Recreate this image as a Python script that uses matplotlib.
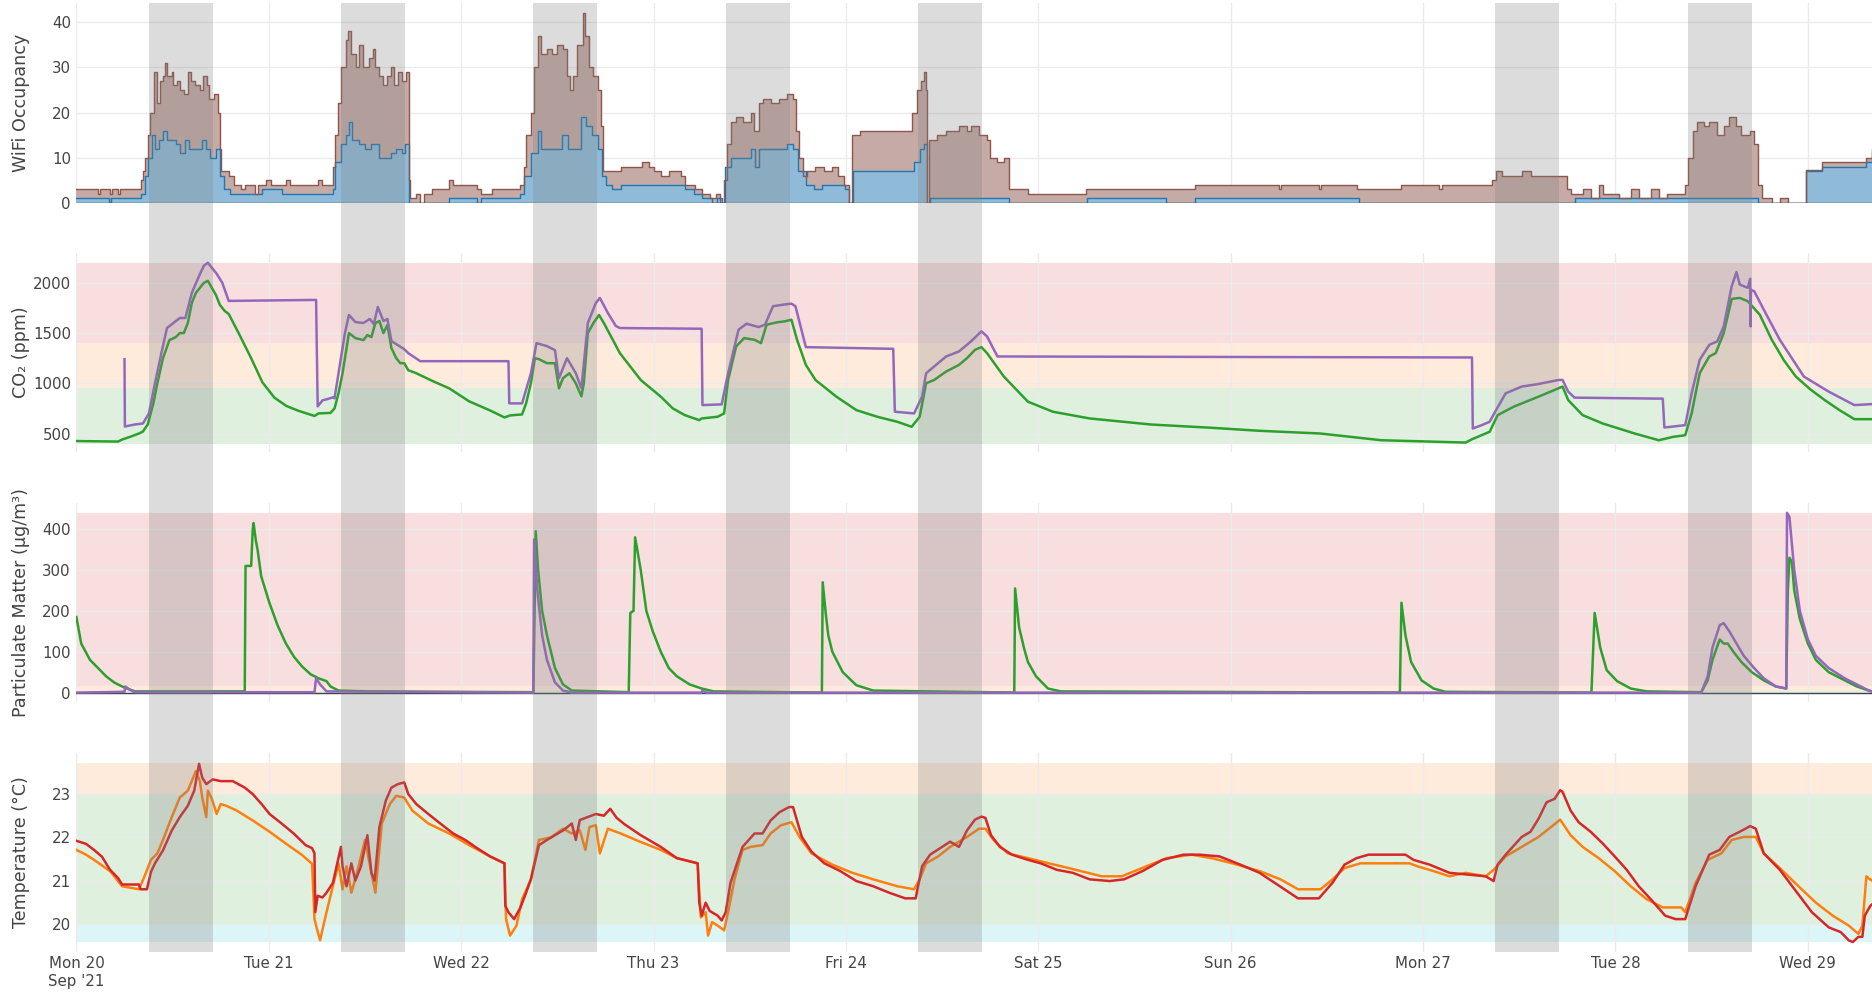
import numpy as np
import matplotlib
matplotlib.use("Agg")
import matplotlib.pyplot as plt
from matplotlib.patches import Rectangle
import matplotlib.transforms as mtransforms

# ---------------- data (time in hours from Mon 20 Sep 2021 00:00) ----------------
day_labels = ["Mon 20\nSep '21", "Tue 21", "Wed 22", "Thu 23", "Fri 24",
              "Sat 25", "Sun 26", "Mon 27", "Tue 28", "Wed 29"]
office_days = [0, 1, 2, 3, 4, 7, 8]
office_start, office_end = 9, 17

wifi_total_t = [0, 2.7, 2.95, 4.2, 4.5, 5.2, 5.5, 8.0, 8.3, 8.5, 8.9, 9.2, 9.7, 10.1, 10.4, 10.8, 11.1, 11.3,
                11.9, 12.1, 12.5, 12.9, 13.4, 13.9, 14.3, 14.8, 15.4, 15.8, 16.3, 16.5, 17.2, 17.7, 17.9,
                18.1, 19.0, 19.6, 20.5, 21.0, 22.3, 22.7, 23.6, 24.3, 26.1, 26.6, 30.2, 30.7, 32.0, 32.3,
                32.6, 33.0, 33.6, 33.9, 34.3, 34.9, 35.3, 35.8, 36.5, 37.0, 37.3, 37.7, 38.3, 38.8, 39.2,
                39.6, 40.1, 40.6, 41.1, 41.5, 41.6, 42.4, 42.9, 43.4, 44.4, 46.5, 47.0, 50.0, 50.5, 51.8,
                55.4, 55.8, 56.1, 56.7, 57.1, 57.6, 58.0, 58.7, 59.3, 60.0, 60.7, 61.2, 61.6, 62.0, 62.5,
                63.2, 63.5, 64.0, 64.5, 65.1, 65.4, 65.7, 67.9, 69.3, 70.6, 71.4, 72.1, 72.9, 73.9, 75.4,
                75.9, 77.2, 78.0, 79.0, 79.8, 80.3, 80.8, 81.1, 81.6, 82.3, 83.1, 84.1, 84.5, 85.1, 85.6,
                86.6, 87.7, 88.7, 89.4, 89.8, 90.2, 90.6, 91.2, 92.2, 93.3, 94.3, 95.0, 95.8, 96.4, 96.8,
                97.8, 103.4, 104.2, 104.9, 105.4, 105.7, 106.0, 106.1, 106.4, 107.3, 108.5, 110.1, 111.1,
                111.6, 112.6, 113.6, 114.0, 114.9, 115.7, 116.4, 118.7, 125.9, 139.6, 145.2, 150.0, 150.3,
                155.0, 155.3, 159.7, 165.0, 165.3, 170.0, 170.3, 176.6, 177.1, 177.8, 180.4, 181.4, 185.4,
                185.9, 186.4, 187.9, 188.9, 189.9, 190.4, 192.4, 193.9, 194.9, 196.4, 197.4, 198.4, 200.7,
                201.1, 201.7, 202.2, 203.0, 203.7, 204.7, 205.5, 206.2, 207.0, 207.7, 208.8, 209.3, 209.8,
                210.3, 211.5, 212.5, 213.5, 215.8, 217.8, 223.3, 224]
wifi_total_v = [3, 2, 3, 2, 3, 2, 3, 5, 7, 10, 15, 20, 29, 22, 27, 28, 31, 28,
                29, 26, 27, 25, 24, 29, 27, 26, 25, 28, 26, 23, 24, 20, 12,
                7, 6, 4, 3, 4, 2, 4, 5, 4, 5, 4, 5, 4, 8, 15,
                22, 30, 36, 38, 33, 30, 35, 30, 32, 34, 30, 28, 26, 28, 30,
                26, 29, 27, 29, 5, 1, 2, 0, 2, 3, 5, 4, 3, 2, 3,
                4, 8, 15, 20, 30, 37, 33, 34, 33, 35, 34, 28, 25, 28, 35,
                42, 37, 30, 28, 25, 17, 7, 8, 8, 9, 8, 7, 6, 7, 6,
                4, 3, 2, 1, 2, 0, 5, 13, 18, 19, 18, 20, 16, 22, 23,
                22, 23, 24, 23, 16, 10, 6, 7, 8, 7, 8, 6, 4, 0, 15,
                16, 16, 20, 25, 27, 29, 25, 0, 14, 15, 16, 17, 16,
                17, 15, 14, 10, 9, 10, 3, 2, 3, 4, 4, 3, 4,
                3, 4, 3, 3, 4, 3, 4, 5, 7, 6, 7, 6, 6,
                3, 2, 3, 1, 4, 2, 1, 3, 1, 3, 1, 2, 4,
                10, 16, 18, 17, 18, 15, 17, 19, 17, 15, 16, 13, 4,
                1, 0, 1, 0, 7.2, 9, 10, 12]

wifi_blue_t = [0, 4.1, 4.3, 8.0, 8.5, 8.9, 9.4, 9.8, 10.3, 10.8, 11.3, 12.4, 12.9, 13.6, 14.0, 14.9, 15.7,
               16.2, 16.7, 17.4, 17.9, 18.4, 19.2, 22.5, 23.1, 25.6, 32.0, 32.3, 33.0, 33.6, 34.0, 34.4,
               35.3, 36.0, 36.8, 37.7, 39.3, 39.9, 40.6, 41.0, 41.5, 46.5, 50.0, 50.5, 55.4, 55.9, 56.7,
               57.6, 58.0, 59.2, 60.6, 61.3, 62.5, 62.9, 63.6, 64.3, 65.1, 65.6, 66.1, 66.8, 67.9, 69.8,
               75.4, 75.9, 77.0, 78.0, 79.3, 79.9, 80.5, 80.9, 81.6, 84.1, 84.6, 85.2, 88.2, 88.7, 89.4,
               90.0, 91.0, 92.0, 93.0, 95.3, 95.9, 96.4, 96.9, 104.2, 104.5, 105.2, 105.7, 106.1, 106.5,
               116.4, 126.1, 135.9, 139.6, 145.2, 160.0, 186.9, 199.7, 209.8, 215.8, 217.8, 223.3, 224]
wifi_blue_v = [1, 0, 1, 2, 6, 10, 15, 12, 14, 16, 14, 13, 11, 14, 12, 12, 14,
               12, 10, 12, 6, 3, 2, 2, 3, 2, 3, 9, 13, 15, 18, 14,
               13, 12, 13, 10, 11, 12, 11, 13, 0, 1, 0, 1, 2, 6, 11,
               16, 12, 12, 15, 12, 12, 19, 17, 15, 12, 6, 4, 3, 4, 4,
               4, 3, 2, 1, 0, 1, 0, 8, 10, 12, 8, 12, 12, 13, 12,
               7, 4, 3, 4, 4, 3, 0, 7, 7, 9, 12, 13, 0, 1,
               0, 1, 0, 1, 1, 0, 1, 1, 0, 7, 8, 9, 11]

co2_green_t = [0, 5.2, 5.7, 6.8, 7.8, 8.3, 8.9, 9.6, 10.1, 10.8, 11.6, 12.4, 12.9, 13.4, 13.9, 14.4, 14.9,
               15.4, 15.9, 16.4, 16.9, 17.4, 17.9, 18.5, 19.0, 20.3, 21.8, 23.2, 24.7, 26.2, 27.7, 29.7,
               30.2, 31.7, 32.2, 32.7, 33.2, 33.7, 34.0, 34.8, 35.8, 36.3, 36.8, 37.3, 37.8, 38.3, 38.8,
               39.3, 39.9, 40.4, 40.9, 41.4, 42.4, 44.5, 46.5, 49.0, 51.6, 53.4, 54.1, 55.6, 56.1, 56.7, 57.2,
               57.7, 58.7, 59.7, 60.2, 60.7, 61.5, 62.3, 63.0, 63.3, 63.8, 64.5, 65.2, 65.8, 66.8, 67.8,
               70.4, 72.9, 74.4, 75.9, 77.7, 78.0, 80.0, 80.8, 81.3, 82.3, 83.3, 84.6, 85.4, 86.1, 87.4,
               88.4, 89.2, 89.9, 91.0, 92.2, 94.8, 97.3, 99.9, 102.4, 104.2, 105.2, 106.0, 107.0, 108.5,
               110.1, 111.1, 112.1, 112.9, 113.6, 115.7, 118.7, 121.8, 126.4, 134.0, 141.6, 147.6, 155.2,
               162.8, 173.3, 174.1, 176.3, 177.3, 179.3, 182.4, 184.9, 185.4, 186.1, 187.9, 190.4, 194.4,
               197.4, 199.2, 200.7, 201.5, 202.5, 203.7, 204.5, 205.5, 206.5, 207.5, 208.5, 210.0, 211.5,
               213.0, 214.5, 216.3, 218.1, 220.0, 221.8, 224]
co2_green_v = [425, 420, 440, 470, 500, 520, 590, 800, 1000, 1250, 1430, 1460, 1500, 1500, 1600, 1800, 1900,
               1950, 2000, 2020, 1950, 1880, 1780, 1720, 1690, 1490, 1250, 1010, 857, 774, 726, 675,
               700, 705, 750, 900, 1100, 1350, 1500, 1450, 1430, 1480, 1460, 1600, 1620, 1500, 1580,
               1350, 1250, 1200, 1200, 1130, 1100, 1020, 950, 820, 730, 660, 680, 690, 800, 1000, 1250,
               1240, 1200, 1200, 950, 1050, 1100, 1000, 870, 1000, 1500, 1600, 1680, 1600, 1450, 1300,
               1033, 867, 750, 683, 633, 650, 667, 700, 1033, 1367, 1450, 1433, 1400, 1583, 1607,
               1617, 1633, 1433, 1183, 1033, 867, 733, 667, 617, 567, 667, 1000, 1033, 1117,
               1183, 1250, 1333, 1360, 1300, 1067, 817, 717, 650, 590, 557, 527, 500,
               433, 410, 443, 517, 683, 767, 867, 950, 967, 833, 683, 600, 500,
               433, 467, 483, 700, 1100, 1267, 1300, 1500, 1840, 1850, 1817, 1683, 1433,
               1230, 1067, 940, 833, 730, 643, 643]

co2_purple_t = [6.0, 6.05, 7.3, 8.3, 9.05, 9.8, 10.6, 11.3, 12.1, 12.9, 13.6, 14.4, 15.2, 15.9, 16.4, 16.9,
                17.5, 18.2, 19.0, 29.9, 30.1, 30.7, 31.2, 32.0, 32.2, 32.7, 33.5, 34.0, 34.8, 35.8, 36.6,
                37.1, 37.6, 38.3, 38.8, 39.3, 40.1, 40.9, 41.4, 42.9, 53.9, 54.0, 55.6, 56.7, 57.4, 58.7,
                59.7, 60.2, 61.2, 62.3, 63.0, 63.8, 64.8, 65.3, 66.3, 67.3, 67.8, 78.0, 78.1, 80.5, 81.3,
                82.6, 83.6, 85.1, 85.9, 86.9, 88.2, 89.2, 89.7, 91.0, 101.9, 102.1, 104.5, 105.5, 106.0,
                107.0, 108.5, 110.1, 111.6, 112.9, 113.6, 114.9, 174.1, 174.2, 175.3, 176.3, 177.1, 178.3,
                180.3, 182.4, 184.9, 185.4, 186.1, 186.9, 197.9, 198.1, 200.7, 201.5, 202.5, 203.7, 204.7,
                205.5, 206.5, 207.1, 207.5, 208.5, 208.8, 208.85, 208.9, 209.3, 210.5, 212.5, 215.5, 218.6,
                221.8, 224]
co2_purple_v = [1240, 570, 590, 600, 700, 1000, 1300, 1550, 1600, 1650, 1650, 1900, 2050, 2170, 2200, 2150,
                2090, 2000, 1820, 1830, 770, 830, 840, 860, 850, 1100, 1500, 1680, 1610, 1600, 1640,
                1590, 1760, 1620, 1640, 1420, 1380, 1340, 1300, 1220, 1220, 800, 800, 1100, 1400, 1370,
                1330, 1050, 1250, 1100, 950, 1600, 1800, 1850, 1700, 1570, 1550, 1543, 783, 790, 1100,
                1533, 1593, 1560, 1583, 1767, 1783, 1793, 1767, 1360, 1343, 717, 700, 867, 1100,
                1167, 1267, 1317, 1417, 1517, 1467, 1267, 1257, 550, 583, 617, 733, 900,
                967, 993, 1033, 1033, 917, 857, 847, 560, 583, 900, 1233, 1383, 1417,
                1567, 1967, 2107, 1983, 1950, 2040, 1567, 1930, 1917, 1733, 1433, 1067, 917,
                783, 793]

pm_green_t = [0, 0.6, 1.7, 2.7, 3.7, 4.7, 5.7, 6.3, 7.3, 21.0, 21.1, 21.8, 22.0, 22.1, 22.4, 22.6, 23.05,
              24.07, 25.09, 26.11, 27.13, 28.15, 29.2, 30.2, 31.2, 31.7, 32.7, 36.3, 44.0, 57.0, 57.1, 57.3,
              57.6, 58.1, 58.7, 59.7, 60.7, 61.8, 68.9, 69.1, 69.5, 69.7, 70.4, 71.1, 71.9, 72.9, 73.9,
              74.9, 76.5, 78.0, 79.5, 93.0, 93.1, 93.5, 93.8, 94.3, 95.6, 97.3, 99.4, 117.0, 117.1, 117.6,
              118.2, 118.7, 119.7, 121.2, 122.8, 165.1, 165.3, 165.8, 166.5, 167.8, 169.3, 170.8, 189.0,
              189.4, 190.1, 190.9, 192.2, 193.9, 195.9, 202.7, 203.5, 204.1, 205.0, 205.5, 206.0, 206.7,
              207.7, 209.0, 210.5, 212.0, 213.3, 213.5, 213.7, 214.0, 214.3, 215.0, 216.0, 217.0, 218.6,
              220.6, 222.1, 223.6, 224]
pm_green_v = [185, 120, 80, 60, 40, 25, 15, 10, 3, 3, 310, 310, 400, 415, 370, 350, 285,
              220, 165, 121, 88, 64, 45, 35, 28, 15, 5, 3, 2, 1, 120, 395,
              300, 200, 140, 60, 20, 5, 1, 195, 200, 380, 300, 200, 150, 100, 60,
              40, 20, 10, 3, 0, 270, 190, 140, 100, 50, 18, 5, 0, 255, 160,
              110, 75, 40, 10, 3, 0, 220, 140, 75, 30, 10, 2, 0,
              195, 110, 55, 28, 10, 3, 1, 30, 80, 130, 120, 120, 100,
              75, 50, 30, 15, 10, 250, 330, 320, 250, 180, 120, 80, 50,
              30, 15, 5, 3]

pm_purple_t = [0, 6.0, 6.1, 6.6, 7.3, 29.7, 29.9, 30.4, 31.2, 57.0, 57.1, 57.5, 58.1, 58.7, 59.7, 60.7, 61.8,
               78.0, 78.1, 78.6, 202.7, 203.5, 204.1, 205.0, 205.5, 206.2, 206.8, 208.0, 209.3, 210.5,
               212.0, 213.3, 213.4, 213.7, 214.3, 215.0, 216.0, 217.0, 218.6, 220.6, 222.1, 223.6, 224]
pm_purple_v = [0, 2, 15, 8, 1, 1, 35, 20, 3, 0, 375, 250, 140, 80, 25, 5, 0,
               0, 5, 0, 0, 40, 110, 165, 170, 150, 130, 90, 60, 35,
               15, 10, 440, 430, 300, 200, 130, 90, 60, 35, 20, 5, 2]

temp_red_t = [0, 1.2, 2.2, 3.2, 4.2, 5.2, 5.7, 7.8, 8.0, 8.8, 9.3, 9.8, 10.8, 11.9, 12.9, 13.9, 14.7, 15.3,
              15.7, 16.2, 17.0, 18.0, 19.5, 21.0, 22.0, 23.1, 24.1, 25.6, 27.1, 28.6, 29.4, 29.7, 29.8,
              30.1, 30.7, 31.2, 32.0, 33.0, 33.2, 33.7, 34.3, 34.8, 35.5, 36.3, 36.8, 37.2, 37.8, 38.6,
              39.3, 40.1, 40.9, 41.4, 42.4, 43.9, 45.4, 47.0, 48.5, 50.0, 51.6, 53.4, 53.5, 53.9, 54.6,
              55.4, 56.1, 56.7, 57.7, 58.7, 59.7, 60.7, 61.8, 62.3, 62.8, 63.8, 64.8, 65.8, 66.6, 67.4,
              68.4, 70.4, 72.9, 74.9, 77.5, 77.7, 78.0, 78.5, 79.0, 80.0, 80.5, 81.0, 81.6, 83.1, 84.6,
              85.6, 86.6, 87.7, 88.9, 89.4, 90.5, 91.7, 93.3, 95.3, 97.3, 99.4, 101.4, 103.4, 104.7, 105.5,
              106.5, 108.0, 109.0, 110.1, 111.1, 112.1, 112.9, 113.4, 114.1, 115.2, 116.7, 118.7, 120.3,
              122.3, 124.3, 126.4, 128.9, 130.7, 133.0, 135.5, 138.1, 140.1, 142.6, 145.2, 147.6, 152.4,
              155.0, 156.7, 158.2, 159.7, 161.2, 165.8, 166.8, 168.8, 171.3, 175.8, 176.8, 177.3, 178.3,
              180.3, 181.4, 182.4, 183.4, 184.4, 185.1, 185.4, 186.4, 187.4, 188.9, 190.4, 191.9, 193.4,
              194.9, 196.4, 198.2, 199.5, 200.7, 202.0, 203.7, 205.0, 206.2, 207.5, 208.8, 209.5, 210.5,
              212.5, 214.5, 216.5, 218.6, 220.1, 221.1, 221.6, 222.3, 222.8, 223.1, 223.8, 224]
temp_red_v = [21.92, 21.85, 21.71, 21.55, 21.25, 21.06, 20.91, 20.91, 20.8, 20.8, 21.2, 21.4, 21.7, 22.16,
              22.47, 22.73, 23.08, 23.7, 23.38, 23.23, 23.34, 23.3, 23.3, 23.15, 23.0, 22.77, 22.54, 22.32,
              22.09, 21.82, 21.75, 21.63, 20.27, 20.65, 20.61, 20.72, 20.95, 21.78, 21.33, 20.87, 21.4,
              21.0, 21.33, 22.05, 21.18, 21.0, 22.24, 22.85, 23.15, 23.23, 23.27, 23.0, 22.77, 22.54,
              22.32, 22.09, 21.94, 21.75, 21.56, 21.4, 20.42, 20.27, 20.11, 20.38, 20.72, 21.03, 21.82,
              21.94, 22.05, 22.16, 22.32, 21.94, 22.4, 22.47, 22.54, 22.5, 22.66, 22.45, 22.3, 22.05,
              21.78, 21.52, 21.4, 20.49, 20.19, 20.49, 20.3, 20.19, 20.08, 20.27, 20.95, 21.78, 22.09,
              22.09, 22.39, 22.58, 22.7, 22.7, 22.01, 21.67, 21.4, 21.22, 20.99, 20.87, 20.72, 20.59,
              20.59, 21.33, 21.6, 21.78, 21.9, 21.78, 22.16, 22.41, 22.48, 22.45, 22.05, 21.78, 21.6,
              21.48, 21.4, 21.25, 21.18, 21.03, 20.99, 21.03, 21.22, 21.48, 21.6, 21.6, 21.56, 21.37,
              21.18, 20.59, 20.59, 20.95, 21.37, 21.52, 21.6, 21.6, 21.48, 21.37, 21.18, 21.1, 20.99,
              21.37, 21.6, 22.01, 22.13, 22.43, 22.81, 22.89, 23.09, 23.05, 22.62, 22.35, 22.13, 21.86,
              21.56, 21.25, 20.87, 20.57, 20.19, 20.11, 20.11, 20.87, 21.6, 21.71, 22.01, 22.13, 22.26,
              22.2, 21.63, 21.25, 20.76, 20.27, 19.92, 19.81, 19.62, 19.58, 19.7, 19.7, 20.19, 20.42,
              20.45]

temp_orange_t = [0, 1.2, 2.2, 4.2, 5.7, 7.8, 8.5, 9.3, 10.1, 10.8, 11.9, 12.9, 13.9, 14.9, 15.4, 15.7,
                 16.2, 16.4, 16.9, 17.5, 18.0, 18.7, 20.0, 22.0, 24.1, 26.1, 28.1, 29.4, 29.7, 30.0, 30.4,
                 31.0, 31.7, 32.7, 33.2, 33.7, 34.3, 35.0, 36.0, 36.8, 37.3, 38.1, 39.1, 39.9, 40.9, 41.9,
                 43.9, 46.5, 49.0, 51.6, 53.4, 53.6, 54.1, 54.9, 55.6, 56.7, 57.7, 59.2, 60.7, 61.8, 62.8,
                 63.5, 64.0, 64.8, 65.3, 66.3, 67.9, 70.3, 72.9, 74.9, 77.5, 77.9, 78.5, 78.8, 79.3, 80.0,
                 80.8, 81.3, 82.1, 83.1, 84.1, 85.6, 86.6, 87.9, 89.2, 90.2, 91.7, 94.3, 96.8, 99.4, 102.4,
                 104.5, 105.2, 106.0, 107.5, 109.0, 111.1, 112.6, 113.4, 114.4, 116.2, 118.7, 121.3, 123.8,
                 127.9, 130.4, 132.0, 134.0, 136.0, 139.1, 141.6, 144.2, 147.6, 150.2, 152.4, 155.2, 156.7,
                 158.2, 160.2, 166.3, 167.3, 169.3, 171.3, 173.3, 175.8, 176.8, 178.3, 180.3, 182.4, 183.9,
                 185.1, 186.4, 187.9, 189.9, 191.9, 193.9, 195.9, 197.9, 200.2, 200.7, 202.0, 203.5, 205.2,
                 206.5, 208.0, 209.5, 210.5, 212.5, 215.0, 217.0, 219.1, 221.1, 222.3, 222.8, 223.3, 223.6,
                 224]
temp_orange_v = [21.71, 21.6, 21.48, 21.22, 20.87, 20.8, 21.1, 21.48, 21.63, 21.94, 22.47, 22.92, 23.08,
                 23.53, 23.3, 22.92, 22.47, 23.08, 22.89, 22.54, 22.77, 22.73, 22.62, 22.39, 22.13, 21.86,
                 21.6, 21.39, 20.11, 19.89, 19.62, 20.11, 20.65, 21.4, 20.8, 21.33, 20.72, 21.18, 21.94,
                 21.18, 20.72, 22.32, 22.77, 22.96, 22.92, 22.62, 22.32, 22.09, 21.82, 21.56, 21.4, 20.11,
                 19.73, 19.96, 20.57, 21.03, 21.94, 22.0, 22.2, 22.09, 22.16, 21.71, 22.24, 22.28, 21.63,
                 22.2, 22.09, 21.9, 21.71, 21.52, 21.4, 20.15, 20.27, 19.73, 20.04, 19.96, 19.85, 20.27,
                 21.03, 21.71, 21.78, 21.82, 22.09, 22.28, 22.35, 22.01, 21.63, 21.37, 21.18, 21.03, 20.87,
                 20.8, 21.03, 21.4, 21.56, 21.78, 22.01, 22.2, 22.2, 21.94, 21.63, 21.52, 21.4, 21.29,
                 21.1, 21.1, 21.22, 21.37, 21.52, 21.6, 21.52, 21.4, 21.22, 21.03, 20.8, 20.8, 21.03,
                 21.29, 21.4, 21.4, 21.33, 21.22, 21.1, 21.18, 21.1, 21.25, 21.56, 21.78, 22.01, 22.23,
                 22.41, 22.05, 21.78, 21.52, 21.22, 20.87, 20.57, 20.38, 20.38, 20.27, 20.95, 21.48, 21.63,
                 21.94, 22.01, 22.01, 21.63, 21.29, 20.84, 20.49, 20.19, 19.96, 19.77, 19.96, 21.1, 21.05,
                 21.0]

# threshold bands (lower, upper, colour)
co2_bands = [(400, 950, "#2ca02c"), (950, 1400, "#ff7f0e"), (1400, 2200, "#d62728")]
pm_bands = [(0, 5, "#2ca02c"), (5, 15, "#ff7f0e"), (15, 440, "#d62728")]
temp_bands = [(19.57, 20.0, "#17becf"), (20.0, 23.0, "#2ca02c"), (23.0, 23.72, "#ff7f0e")]

# ---------------- figure ----------------
W, H = 1872, 993
fig = plt.figure(figsize=(W / 100, H / 100), dpi=100)
left_px = 76.4
panels_px = [(3, 203), (253, 452), (503, 702), (753, 952)]
TICK_COLOR = "#444444"
GRID = "#ebebeb"

axes = []
for i, (top, bot) in enumerate(panels_px):
    kw = {} if i == 0 else {"sharex": axes[0]}
    ax = fig.add_axes([left_px / W, (H - bot) / H, 1 - left_px / W, (bot - top) / H], **kw)
    ax.set_axisbelow(True)
    for s in ax.spines.values():
        s.set_visible(False)
    ax.tick_params(length=0, labelsize=10.8, colors=TICK_COLOR, pad=4)
    ax.grid(True, color=GRID, lw=0.95)
    axes.append(ax)

ax1, ax2, ax3, ax4 = axes
ax1.set_xlim(0, 224)
ax4.set_xticks([24 * i for i in range(len(day_labels))])
ax4.set_xticklabels(day_labels, ha="center", fontsize=10.8, color=TICK_COLOR, linespacing=1.25)
ax4.tick_params(axis="x", pad=3)
for ax in (ax1, ax2, ax3):
    ax.tick_params(axis="x", labelbottom=False)

# WiFi panel
ax1.fill_between(wifi_total_t, 0, wifi_total_v, step="post", color="#c5aaa5", lw=0, zorder=1)
ax1.fill_between(wifi_blue_t, 0, wifi_blue_v, step="post", color="#8fbbd9", lw=0, zorder=1.1)
ax1.step(wifi_blue_t, wifi_blue_v, where="post", color="#1f77b4", lw=1.0, zorder=2)
ax1.step(wifi_total_t, wifi_total_v, where="post", color="#8c564b", lw=1.0, zorder=2.1)
ax1.axhline(0, color="#3c4650", lw=1.0, zorder=2.5)
ax1.set_ylim(0, 44.2)
ax1.set_yticks([0, 10, 20, 30, 40])

# CO2 panel
for lo, hi, c in co2_bands:
    ax2.axhspan(lo, hi, color=c, alpha=0.15, lw=0, zorder=0.2)
ax2.plot(co2_green_t, co2_green_v, color="#2ca02c", lw=1.8, zorder=2)
ax2.plot(co2_purple_t, co2_purple_v, color="#9467bd", lw=1.8, zorder=2.1)
ax2.set_ylim(316, 2297)
ax2.set_yticks([500, 1000, 1500, 2000])

# PM panel
for lo, hi, c in pm_bands:
    ax3.axhspan(lo, hi, color=c, alpha=0.15, lw=0, zorder=0.2)
ax3.axhline(0, color="#3c4650", lw=1.0, zorder=1.5)
ax3.plot(pm_green_t, pm_green_v, color="#2ca02c", lw=1.8, zorder=2)
ax3.plot(pm_purple_t, pm_purple_v, color="#9467bd", lw=1.8, zorder=2.1)
ax3.set_ylim(-23, 464)
ax3.set_yticks([0, 100, 200, 300, 400])

# Temperature panel
for lo, hi, c in temp_bands:
    ax4.axhspan(lo, hi, color=c, alpha=0.15, lw=0, zorder=0.2)
ax4.plot(temp_orange_t, temp_orange_v, color="#ff7f0e", lw=1.8, zorder=2)
ax4.plot(temp_red_t, temp_red_v, color="#d62728", lw=1.8, zorder=2.1)
ax4.set_ylim(19.35, 23.95)
ax4.set_yticks([20, 21, 22, 23])

# y-axis titles
titles = ["WiFi Occupancy", "CO\u2082 (ppm)", "Particulate Matter (\u00b5g/m\u00b3)", "Temperature (\u00b0C)"]
for (top, bot), t in zip(panels_px, titles):
    fig.text(21.5 / W, 1 - ((top + bot) / 2) / H, t, rotation=90, ha="center", va="center",
             fontsize=12.6, color=TICK_COLOR)

# office-hours shading spanning all panels
trans = mtransforms.blended_transform_factory(ax4.transData, fig.transFigure)
y0 = (H - 952) / H
hgt = (952 - 3) / H
for d in office_days:
    r = Rectangle((d * 24 + office_start, y0), office_end - office_start, hgt, transform=trans,
                  facecolor="#808080", alpha=0.27, edgecolor="none", zorder=5)
    fig.add_artist(r)

fig.savefig("out.png", dpi=100)
